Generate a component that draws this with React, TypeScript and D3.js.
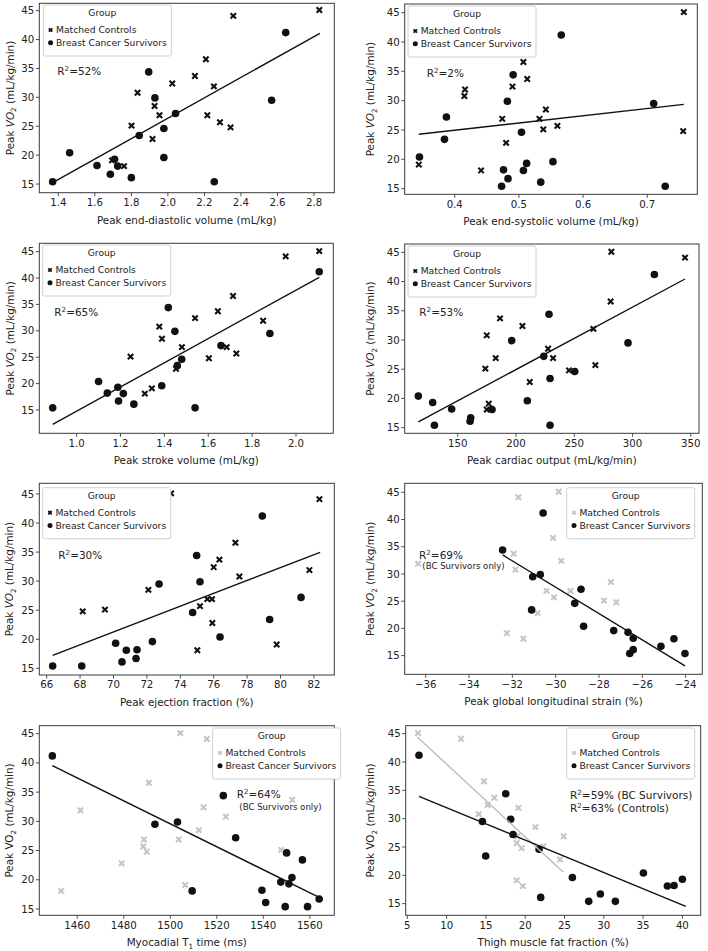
import React from "react";
import * as d3 from "d3";

// ---------- DATA ----------
// Peak VO2 (mL/kg/min) per participant, same order used for every panel's x arrays
const vo2Controls = [45.1, 44.1, 36.6, 33.7, 32.4, 31.9, 30.8, 28.5, 26.9, 26.9, 25.7, 25.1, 24.8, 22.8, 19.1, 18.1];
const vo2Survivors = [41.2, 34.4, 29.9, 29.5, 27.2, 24.6, 23.4, 20.4, 19.6, 19.3, 18.2, 18.1, 16.7, 16.1, 15.4, 15.4];

const edvControls = [2.829, 2.358, 2.208, 2.148, 2.024, 2.252, 1.834, 1.927, 1.954, 2.216, 2.285, 1.801, 2.343, 1.916, 1.694, 1.76];
const edvSurvivors = [2.645, 1.895, 1.929, 2.568, 2.042, 1.978, 1.843, 1.462, 1.978, 1.708, 1.612, 1.725, 1.685, 1.8, 1.369, 2.254];

const esvControls = [0.757, 0.47, 0.507, 0.513, 0.49, 0.416, 0.415, 0.542, 0.474, 0.532, 0.56, 0.538, 0.756, 0.48, 0.344, 0.441];
const esvSurvivors = [0.566, 0.491, 0.482, 0.71, 0.387, 0.504, 0.384, 0.345, 0.553, 0.512, 0.476, 0.507, 0.483, 0.534, 0.473, 0.728];

const svControls = [2.106, 1.953, 1.713, 1.644, 1.54, 1.85, 1.377, 1.389, 1.48, 1.684, 1.728, 1.246, 1.603, 1.453, 1.343, 1.311];
const svSurvivors = [2.106, 1.418, 1.448, 1.881, 1.658, 1.479, 1.459, 1.1, 1.388, 1.188, 1.14, 1.213, 1.191, 1.261, 0.891, 1.54];

const coControls = [281.8, 345, 281.2, 186.3, 205.5, 266.4, 174.9, 227.5, 182.6, 231.8, 268.1, 173.7, 245.5, 211.8, 176.6, 174.9];
const coSurvivors = [318.7, 228.3, 196.3, 296.1, 223.8, 250.4, 229.2, 116.2, 209.7, 128.5, 144.8, 179.4, 161.1, 160.6, 130, 229.2];

const efControls = [73.45, 82.33, 77.3, 76.34, 76.0, 81.73, 77.54, 72.09, 75.62, 75.9, 75.18, 69.49, 68.16, 75.92, 79.77, 75.02];
const efSurvivors = [78.91, 74.98, 75.18, 72.73, 81.23, 74.74, 79.35, 76.38, 72.33, 70.13, 71.41, 70.77, 71.35, 70.51, 66.36, 68.1];

const glsControls = [-29.86, -31.72, -30.12, -31.94, -29.74, -36.35, -31.86, -27.45, -30.42, -29.31, -30.08, -27.77, -27.2, -30.83, -32.26, -31.49];
const glsSurvivors = [-30.58, -32.45, -30.71, -31.06, -28.83, -29.12, -31.11, -28.71, -27.32, -26.66, -26.42, -24.54, -25.14, -26.42, -26.58, -24.03];

const t1Controls = [1504.3, 1515.7, 1490.8, 1552.4, 1514.3, 1461.4, 1523.9, 1512.3, 1488.7, 1503.6, 1488.4, 1547.7, 1489.9, 1479.1, 1506.4, 1453.1];
const t1Survivors = [1449.3, 1522.8, 1503.1, 1493.4, 1528.1, 1550, 1556.8, 1552.3, 1547.5, 1551, 1539.4, 1509.4, 1564, 1541, 1549.4, 1559];

const fatControls = [6.36, 11.83, 14.76, 16.07, 15.22, 19.13, 14.08, 21.29, 24.9, 19.0, 18.92, 22.31, 19.55, 24.43, 18.92, 19.68];
const fatSurvivors = [6.48, 17.52, 18.15, 14.55, 18.45, 21.76, 14.97, 35.04, 26.0, 40.0, 38.94, 38.09, 29.56, 21.97, 28.08, 31.47];

// regression lines: [x, y] endpoints
const fitEdv = [[1.369, 15.23], [2.832, 41.08]];
const fitEsv = [[0.344, 24.26], [0.757, 29.37]];
const fitSv = [[0.891, 12.28], [2.106, 40.14]];
const fitCo = [[116.2, 15.97], [345, 40.44]];
const fitEf = [[66.36, 17.24], [82.37, 34.95]];
const fitGls = [[-32.45, 33.49], [-24.03, 13.1]];
const fitT1 = [[1449.3, 39.53], [1564, 17.0]];
const fitFatSurvivors = [[6.48, 33.94], [40.43, 14.53]];
const fitFatControls = [[6.27, 44.41], [24.86, 20.53]];

// tick values
const vo2Ticks = [15, 20, 25, 30, 35, 40, 45];
const edvTicks = [1.4, 1.6, 1.8, 2.0, 2.2, 2.4, 2.6, 2.8];
const esvTicks = [0.4, 0.5, 0.6, 0.7];
const svTicks = [1.0, 1.2, 1.4, 1.6, 1.8, 2.0];
const coTicks = [150, 200, 250, 300, 350];
const efTicks = [66, 68, 70, 72, 74, 76, 78, 80, 82];
const glsTicks = [-36, -34, -32, -30, -28, -26, -24];
const t1Ticks = [1460, 1480, 1500, 1520, 1540, 1560];
const fatTicks = [5, 10, 15, 20, 25, 30, 35, 40];

// ---------- STYLE ----------
const FONT = "DejaVu Sans, Verdana, sans-serif";
const DARK = "#111";
const GRAY = "#c6c6c6";
const TXT = "#222";
const SPINE = "#3a3a3a";

const fmt1 = d3.format(".1f");
const fmt0 = (v: number) => (v < 0 ? "\u2212" + Math.abs(v) : String(v));

function XMark({ cx, cy, s, w, color }: any) {
  return (
    <path
      d={`M${cx - s},${cy - s}L${cx + s},${cy + s}M${cx - s},${cy + s}L${cx + s},${cy - s}`}
      stroke={color}
      strokeWidth={w}
      fill="none"
    />
  );
}

function Legend({ x, y, gray }: any) {
  const w = 128;
  const h = 51;
  return (
    <g fontFamily={FONT} fill={TXT}>
      <rect x={x} y={y} width={w} height={h} rx={2} fill="#fff" stroke="#d0d0d0" strokeWidth={1} />
      <text x={x + 59} y={y + 8} dy="0.35em" textAnchor="middle" fontSize={9.2}>Group</text>
      <XMark cx={x + 7.3} cy={y + 25} s={1.7} w={1.8} color={gray ? GRAY : DARK} />
      <text x={x + 12.7} y={y + 25} dy="0.35em" fontSize={9.2}>Matched Controls</text>
      <circle cx={x + 7.3} cy={y + 37.7} r={2.5} fill={DARK} />
      <text x={x + 12.7} y={y + 37.7} dy="0.35em" fontSize={9.2}>Breast Cancer Survivors</text>
    </g>
  );
}

function R2({ x, y, pct, suffix, size = 10.5 }: any) {
  return (
    <text x={x} y={y} dy="0.35em" fontSize={size} fontFamily={FONT} fill={TXT}>
      R
      <tspan dy={-4} fontSize={size * 0.68}>2</tspan>
      <tspan dy={4}>{`=${pct}%${suffix ? " " + suffix : ""}`}</tspan>
    </text>
  );
}

function Note({ x, y, text, size = 8.6 }: any) {
  return (
    <text x={x} y={y} dy="0.35em" fontSize={size} fontFamily={FONT} fill={TXT}>{text}</text>
  );
}

function YLabel({ x, y, italic }: any) {
  return (
    <text
      transform={`translate(${x},${y}) rotate(-90)`}
      textAnchor="middle"
      dy="0.35em"
      fontSize={10.4}
      fontFamily={FONT}
      fill={TXT}
    >
      Peak{" "}
      <tspan fontStyle={italic ? "italic" : "normal"}>VO</tspan>
      <tspan dy={2.5} fontSize={7.2}>2</tspan>
      <tspan dy={-2.5}> (mL/kg/min)</tspan>
    </text>
  );
}

function Panel({ p }: any) {
  const { frame } = p;
  const x = d3.scaleLinear().domain(p.xDomain).range([frame.x0, frame.x1]);
  const y = d3.scaleLinear().domain(p.yDomain).range([frame.y1, frame.y0]);
  const line = d3.line<number[]>().x((d) => x(d[0])).y((d) => y(d[1]));
  const ctrlColor = p.gray ? GRAY : DARK;
  const cx = (frame.x0 + frame.x1) / 2;
  const cy = (frame.y0 + frame.y1) / 2;
  return (
    <g>
      {p.controlsX.map((v: number, i: number) => (
        <XMark key={"c" + i} cx={x(v)} cy={y(vo2Controls[i])} s={2.7} w={2.1} color={ctrlColor} />
      ))}
      {p.survivorsX.map((v: number, i: number) => (
        <circle key={"s" + i} cx={x(v)} cy={y(vo2Survivors[i])} r={3.8} fill={DARK} />
      ))}
      {p.fits.map((f: any, i: number) => (
        <path key={"f" + i} d={line(f.pts) || ""} stroke={f.color} strokeWidth={1.4} fill="none" />
      ))}
      <rect
        x={frame.x0}
        y={frame.y0}
        width={frame.x1 - frame.x0}
        height={frame.y1 - frame.y0}
        fill="none"
        stroke={SPINE}
        strokeWidth={1}
      />
      {vo2Ticks.map((t) => (
        <g key={"yt" + t}>
          <line x1={frame.x0 - 3.5} x2={frame.x0} y1={y(t)} y2={y(t)} stroke={SPINE} strokeWidth={0.9} />
          <text x={frame.x0 - 5} y={y(t)} dy="0.35em" textAnchor="end" fontSize={10.2} fontFamily={FONT} fill={TXT}>
            {t}
          </text>
        </g>
      ))}
      {p.xTicks.map((t: number) => (
        <g key={"xt" + t}>
          <line x1={x(t)} x2={x(t)} y1={frame.y1} y2={frame.y1 + 3.5} stroke={SPINE} strokeWidth={0.9} />
          <text x={x(t)} y={frame.y1 + 9.8} dy="0.35em" textAnchor="middle" fontSize={10.2} fontFamily={FONT} fill={TXT}>
            {p.fmt(t)}
          </text>
        </g>
      ))}
      <text x={cx} y={frame.y1 + 27.5} dy="0.35em" textAnchor="middle" fontSize={10.4} fontFamily={FONT} fill={TXT}>
        {p.xLabel}
      </text>
      <YLabel x={p.yLabelX} y={cy} italic={p.italic} />
      <Legend x={p.legend[0]} y={p.legend[1]} gray={p.gray} />
      {p.notes}
    </g>
  );
}

const panels = [
  {
    xLabel: "Peak end-diastolic volume (mL/kg)",
    controlsX: edvControls,
    survivorsX: edvSurvivors,
    fits: [{ pts: fitEdv, color: DARK }],
    xTicks: edvTicks,
    fmt: fmt1,
    xDomain: [1.296, 2.911],
    yDomain: [13.5, 46.27],
    frame: { x0: 39.3, x1: 334.3, y0: 3.3, y1: 192.7 },
    yLabelX: 10,
    legend: [43.3, 5],
    italic: true,
    gray: false,
    notes: <R2 x={57.3} y={71} pct={52} />,
  },
  {
    xLabel: "Peak end-systolic volume (mL/kg)",
    controlsX: esvControls,
    survivorsX: esvSurvivors,
    fits: [{ pts: fitEsv, color: DARK }],
    xTicks: esvTicks,
    fmt: fmt1,
    xDomain: [0.322, 0.778],
    yDomain: [14.03, 46.48],
    frame: { x0: 404.7, x1: 697.3, y0: 4, y1: 194.3 },
    yLabelX: 370.7,
    legend: [408, 6],
    italic: true,
    gray: false,
    notes: <R2 x={426.7} y={73.3} pct={2} />,
  },
  {
    xLabel: "Peak stroke volume (mL/kg)",
    controlsX: svControls,
    survivorsX: svSurvivors,
    fits: [{ pts: fitSv, color: DARK }],
    xTicks: svTicks,
    fmt: fmt1,
    xDomain: [0.83, 2.17],
    yDomain: [10.58, 46.58],
    frame: { x0: 39.3, x1: 333.3, y0: 243.3, y1: 433.3 },
    yLabelX: 10,
    legend: [42.7, 245],
    italic: true,
    gray: false,
    notes: <R2 x={54.3} y={312} pct={65} />,
  },
  {
    xLabel: "Peak cardiac output (mL/kg/min)",
    controlsX: coControls,
    survivorsX: coSurvivors,
    fits: [{ pts: fitCo, color: DARK }],
    xTicks: coTicks,
    fmt: fmt0,
    xDomain: [104.5, 357],
    yDomain: [14.03, 46.43],
    frame: { x0: 404.7, x1: 699, y0: 244, y1: 433.3 },
    yLabelX: 370.7,
    legend: [408, 246],
    italic: true,
    gray: false,
    notes: <R2 x={419.3} y={312.7} pct={53} />,
  },
  {
    xLabel: "Peak ejection fraction (%)",
    controlsX: efControls,
    survivorsX: efSurvivors,
    fits: [{ pts: fitEf, color: DARK }],
    xTicks: efTicks,
    fmt: fmt0,
    xDomain: [65.56, 83.22],
    yDomain: [13.85, 46.83],
    frame: { x0: 39.3, x1: 334.3, y0: 483.3, y1: 675 },
    yLabelX: 9.5,
    legend: [42.7, 487.7],
    italic: true,
    gray: false,
    notes: <R2 x={58.3} y={555} pct={30} />,
  },
  {
    xLabel: "Peak global longitudinal strain (%)",
    controlsX: glsControls,
    survivorsX: glsSurvivors,
    fits: [{ pts: fitGls, color: DARK }],
    xTicks: glsTicks,
    fmt: fmt0,
    xDomain: [-36.97, -23.23],
    yDomain: [11.57, 46.65],
    frame: { x0: 404.7, x1: 702.3, y0: 483.3, y1: 674.3 },
    yLabelX: 370.7,
    legend: [566.7, 487.7],
    italic: true,
    gray: true,
    notes: (
      <g>
        <R2 x={419} y={555} pct={69} />
        <Note x={422.3} y={565.7} text="(BC Survivors only)" />
      </g>
    ),
  },
  {
    xLabel: (
      <>
        Myocadial T<tspan dy={2.5} fontSize={7.2}>1</tspan>
        <tspan dy={-2.5}> time (ms)</tspan>
      </>
    ),
    controlsX: t1Controls,
    survivorsX: t1Survivors,
    fits: [{ pts: fitT1, color: DARK }],
    xTicks: t1Ticks,
    fmt: fmt0,
    xDomain: [1443.7, 1570.5],
    yDomain: [13.92, 46.37],
    frame: { x0: 39.3, x1: 334.3, y0: 725.7, y1: 915.3 },
    yLabelX: 9.5,
    legend: [212.7, 728],
    italic: false,
    gray: true,
    notes: (
      <g>
        <R2 x={236.7} y={794.7} pct={64} />
        <Note x={239.3} y={807.3} text="(BC Survivors only)" />
      </g>
    ),
  },
  {
    xLabel: "Thigh muscle fat fraction (%)",
    controlsX: fatControls,
    survivorsX: fatSurvivors,
    fits: [
      { pts: fitFatControls, color: "#bdbdbd" },
      { pts: fitFatSurvivors, color: DARK },
    ],
    xTicks: fatTicks,
    fmt: fmt0,
    xDomain: [4.79, 42.33],
    yDomain: [12.94, 46.41],
    frame: { x0: 405.7, x1: 700.7, y0: 725.7, y1: 915.3 },
    yLabelX: 370.7,
    legend: [566.7, 728],
    italic: false,
    gray: true,
    notes: (
      <g>
        <R2 x={570} y={795} pct={59} suffix="(BC Survivors)" />
        <R2 x={570} y={808} pct={63} suffix="(Controls)" />
      </g>
    ),
  },
];

export default function App() {
  return (
    <svg
      width={708}
      height={951}
      viewBox="0 0 708 951"
      style={{ position: "absolute", left: 0, top: 0, background: "#fff" }}
    >
      <rect x={0} y={0} width={708} height={951} fill="#fff" />
      {panels.map((p, i) => (
        <Panel key={i} p={p} />
      ))}
    </svg>
  );
}
